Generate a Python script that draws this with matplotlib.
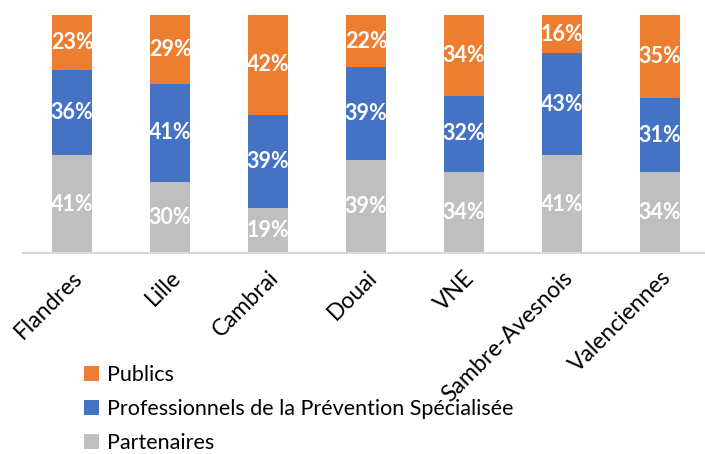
import numpy as np
import matplotlib.pyplot as plt

plt.rcParams['font.family'] = ['Lato', 'DejaVu Sans']

categories = ['Flandres', 'Lille', 'Cambrai', 'Douai', 'VNE', 'Sambre-Avesnois', 'Valenciennes']
partenaires = [41, 30, 19, 39, 34, 41, 34]
professionnels = [36, 41, 39, 39, 32, 43, 31]
publics = [23, 29, 42, 22, 34, 16, 35]

series = [('Partenaires', partenaires, '#bfbfbf'),
          ('Professionnels de la Prévention Spécialisée', professionnels, '#4472c4'),
          ('Publics', publics, '#ed7d31')]

fig = plt.figure(figsize=(7.05, 4.54), dpi=100)
ax = fig.add_axes([23/705, 1-253/454, 686/705, 238/454])

x = np.arange(len(categories))
bottom = np.zeros(len(categories))
handles = []
for name, vals, col in series:
    vals = np.array(vals)
    b = ax.bar(x, vals, 0.41, bottom=bottom, color=col, label=name)
    handles.append(b)
    for xi, v, bt in zip(x, vals, bottom):
        ax.text(xi, bt + v/2, f'{v}%', ha='center', va='center',
                color='white', fontsize=15.5, fontweight='bold')
    bottom += vals

ax.set_xlim(-0.5, 6.5)
ax.set_ylim(0, 100)
ax.set_yticks([])
for s in ['top', 'right', 'left']:
    ax.spines[s].set_visible(False)
ax.spines['bottom'].set_color('#d9d9d9')
ax.spines['bottom'].set_linewidth(1.5)
ax.set_xticks(x)
ax.set_xticklabels(categories, rotation=45, ha='right', rotation_mode='anchor', fontsize=16.5)
ax.tick_params(axis='x', length=0, pad=10)

fig.legend(handles[::-1], [s[0] for s in series][::-1], loc='upper left',
           bbox_to_anchor=(84/705, 1-365/454), frameon=False, fontsize=15.5,
           borderpad=0, borderaxespad=0,
           handlelength=0.7, handleheight=0.7, handletextpad=0.35, labelspacing=0.66)

fig.savefig('out.png', dpi=100)
